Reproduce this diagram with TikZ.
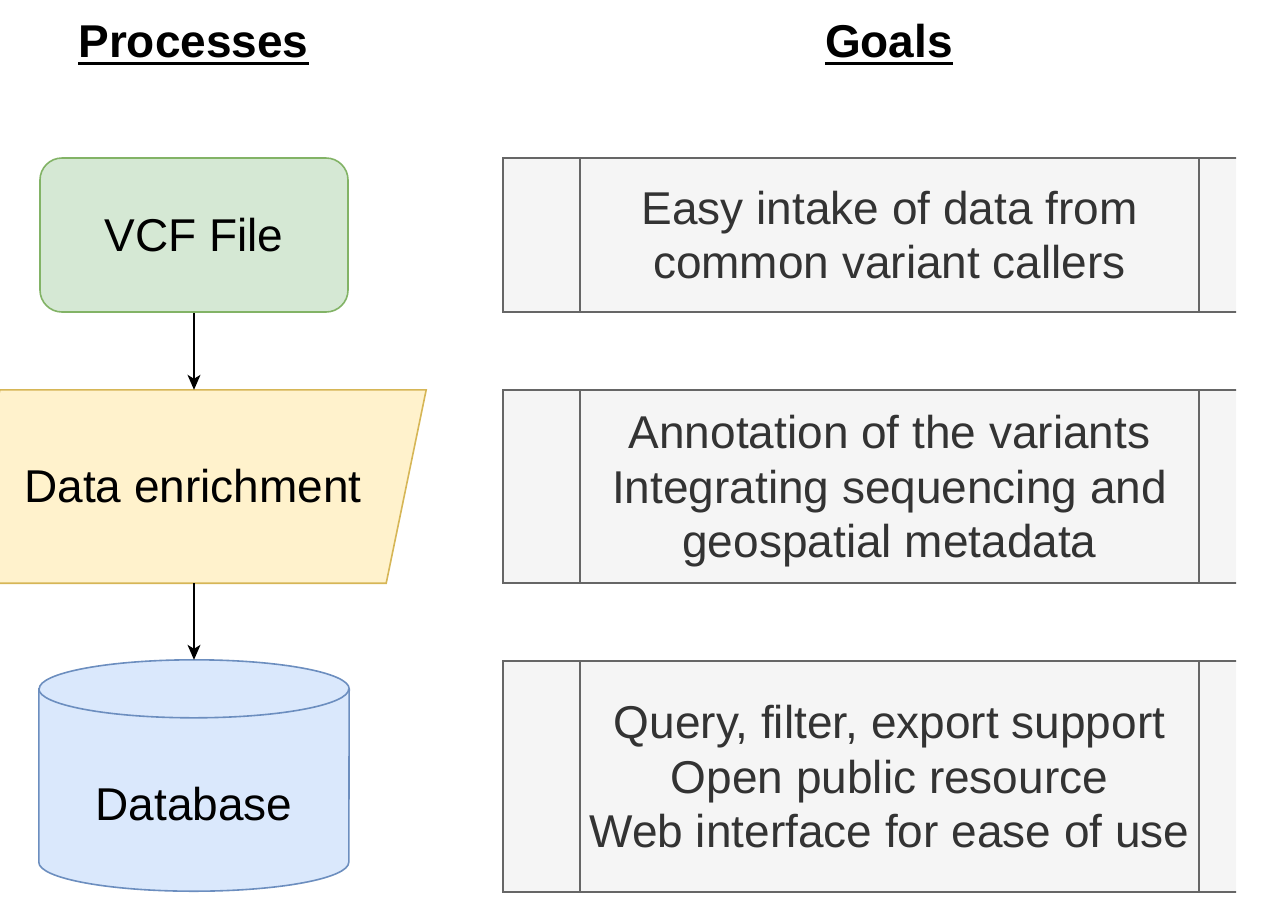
\documentclass[tikz,border=0pt]{standalone}
\usepackage{fontspec}
\setmainfont{Liberation Sans}
\usetikzlibrary{arrows.meta,backgrounds}

\definecolor{vcffill}{HTML}{D5E8D4}
\definecolor{vcfline}{HTML}{82B366}
\definecolor{enrichfill}{HTML}{FFF2CC}
\definecolor{enrichline}{HTML}{D6B656}
\definecolor{dbfill}{HTML}{DAE8FC}
\definecolor{dbline}{HTML}{6C8EBF}
\definecolor{goalfill}{HTML}{F5F5F5}
\definecolor{goalline}{HTML}{666666}
\definecolor{goaltext}{HTML}{333333}

\begin{document}
\begin{tikzpicture}[x=1pt,y=-1pt,
	font=\fontsize{46}{54.5}\selectfont,
	title/.style={font=\fontsize{46}{54.5}\selectfont\bfseries,inner sep=0pt,anchor=base},
	titleline/.style={line width=3pt},
	vcfbox/.style={rectangle,rounded corners=22pt,draw=vcfline,fill=vcffill,line width=1.6pt,
		minimum width=308pt,minimum height=154pt},
	enrichbox/.style={rectangle,minimum width=466pt,minimum height=193pt},
	enrichshape/.style={draw=enrichline,fill=enrichfill,line width=1.6pt},
	dbbox/.style={rectangle,minimum width=310pt,minimum height=173pt},
	dbshape/.style={draw=dbline,fill=dbfill,line width=1.6pt},
	goalbox/.style={rectangle,draw=goalline,fill=goalfill,text=goaltext,line width=1.6pt,
		minimum width=773pt,align=center,text depth=0pt,
		path picture={
			\draw[goalline,line width=1.6pt] ([xshift=77pt]path picture bounding box.north west)
				-- ([xshift=77pt]path picture bounding box.south west);
			\draw[goalline,line width=1.6pt] ([xshift=-77pt]path picture bounding box.north east)
				-- ([xshift=-77pt]path picture bounding box.south east);
		}},
	flow/.style={line width=1.5pt,-{Stealth[length=15pt,width=13pt,inset=4pt]}}]
	\useasboundingbox (0,0) rectangle (1268,900);

	% column titles
	\node[title] (proctitle) at (193.5,57.5) {Processes};
	\node[title] (goaltitle) at (889,57.5) {Goals};
	\draw[titleline] ([yshift=-6pt]proctitle.base west) -- ([yshift=-6pt]proctitle.base east);
	\draw[titleline] ([yshift=-6pt]goaltitle.base west) -- ([yshift=-6pt]goaltitle.base east);

	\begin{scope}
		\clip (0,0) rectangle (1236,900);
		% processes
		\node[vcfbox] (vcf) at (194,235) {VCF File};
		\node[enrichbox] (enrich) at (193,486.5) {Data enrichment};
		\node[dbbox] (db) at (194,804.5) {Database};
		\begin{scope}[on background layer]
			\draw[enrichshape] (enrich.south west) -- ([xshift=40pt]enrich.north west)
				-- (enrich.north east) -- ([xshift=-40pt]enrich.south east) -- cycle;
			\draw[dbshape] ([yshift=29pt]db.north west) -- ([yshift=29pt]db.south west)
				arc[start angle=180,end angle=360,x radius=155pt,y radius=29pt]
				-- ([yshift=29pt]db.north east)
				arc[start angle=0,end angle=180,x radius=155pt,y radius=29pt] -- cycle;
			\draw[dbshape,fill=none] ([yshift=29pt]db.north west)
				arc[start angle=180,end angle=360,x radius=155pt,y radius=29pt];
		\end{scope}

		% goals
		\node[goalbox,minimum height=154pt] (intake) at (889.5,235)
			{Easy intake of data from\\common variant callers};
		\node[goalbox,minimum height=193pt] (annot) at (889.5,486.5)
			{Annotation of the variants\\Integrating sequencing and\\geospatial metadata};
		\node[goalbox,minimum height=231pt] (access) at (889.5,776.5)
			{Query, filter, export support\\Open public resource\\Web interface for ease of use};
	\end{scope}

	% flow between processes
	\draw[flow] (vcf.south) -- (vcf.south |- enrich.north);
	\draw[flow] (vcf.south |- enrich.south) -- ([yshift=58pt]db.north);
\end{tikzpicture}
\end{document}
